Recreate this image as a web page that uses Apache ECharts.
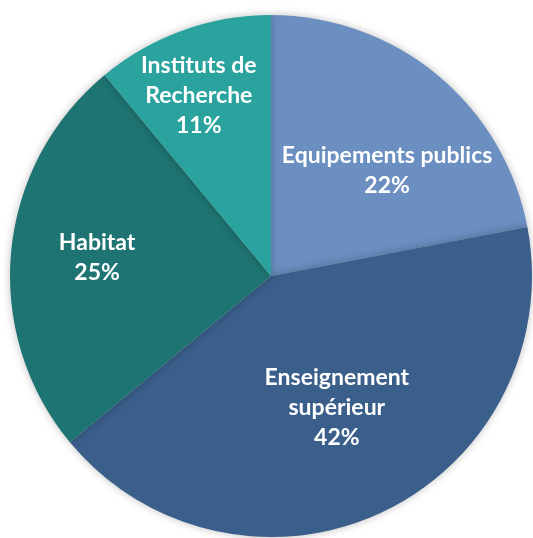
<!DOCTYPE html>
<html>
<head>
<meta charset="utf-8">
<script src="https://cdn.jsdelivr.net/npm/echarts@6/dist/echarts.min.js"></script>
<style>
  html, body { margin: 0; padding: 0; background: #fff; }
  #chart { width: 533px; height: 538px; }
</style>
</head>
<body>
<div id="chart"></div>
<script>
// parts du total, sens horaire depuis midi
const categories = ["Equipements publics", "Enseignement\nsupérieur", "Habitat", "Instituts de\nRecherche"];
const values = [22, 42, 25, 11];
const colors = ["#6b8fc1", "#3a5f8b", "#1e7472", "#2aa39f"];
// décalage des étiquettes par rapport à la position "inside"
const labelOffsets = [[31, -3], [9, 11], [-41, -6], [-27, -55]];

const myChart = echarts.init(document.getElementById("chart"));
const option = {
  animation: false,
  series: [
    {
      type: "pie",
      center: [271, 276],
      radius: [0, 261],
      startAngle: 90,
      clockwise: true,
      itemStyle: {
        borderWidth: 0,
        shadowBlur: 8,
        shadowColor: "rgba(0,0,0,0.25)",
      },
      label: {
        position: "inside",
        formatter: "{b}\n{d}%",
        color: "#ffffff",
        fontFamily: "Lato",
        fontWeight: "bold",
        fontSize: 23,
        lineHeight: 30,
        align: "center",
      },
      labelLine: { show: false },
      data: categories.map((name, i) => ({
        name: name,
        value: values[i],
        itemStyle: { color: colors[i] },
        label: { offset: labelOffsets[i] },
      })),
    },
  ],
};
myChart.setOption(option);
</script>
</body>
</html>
